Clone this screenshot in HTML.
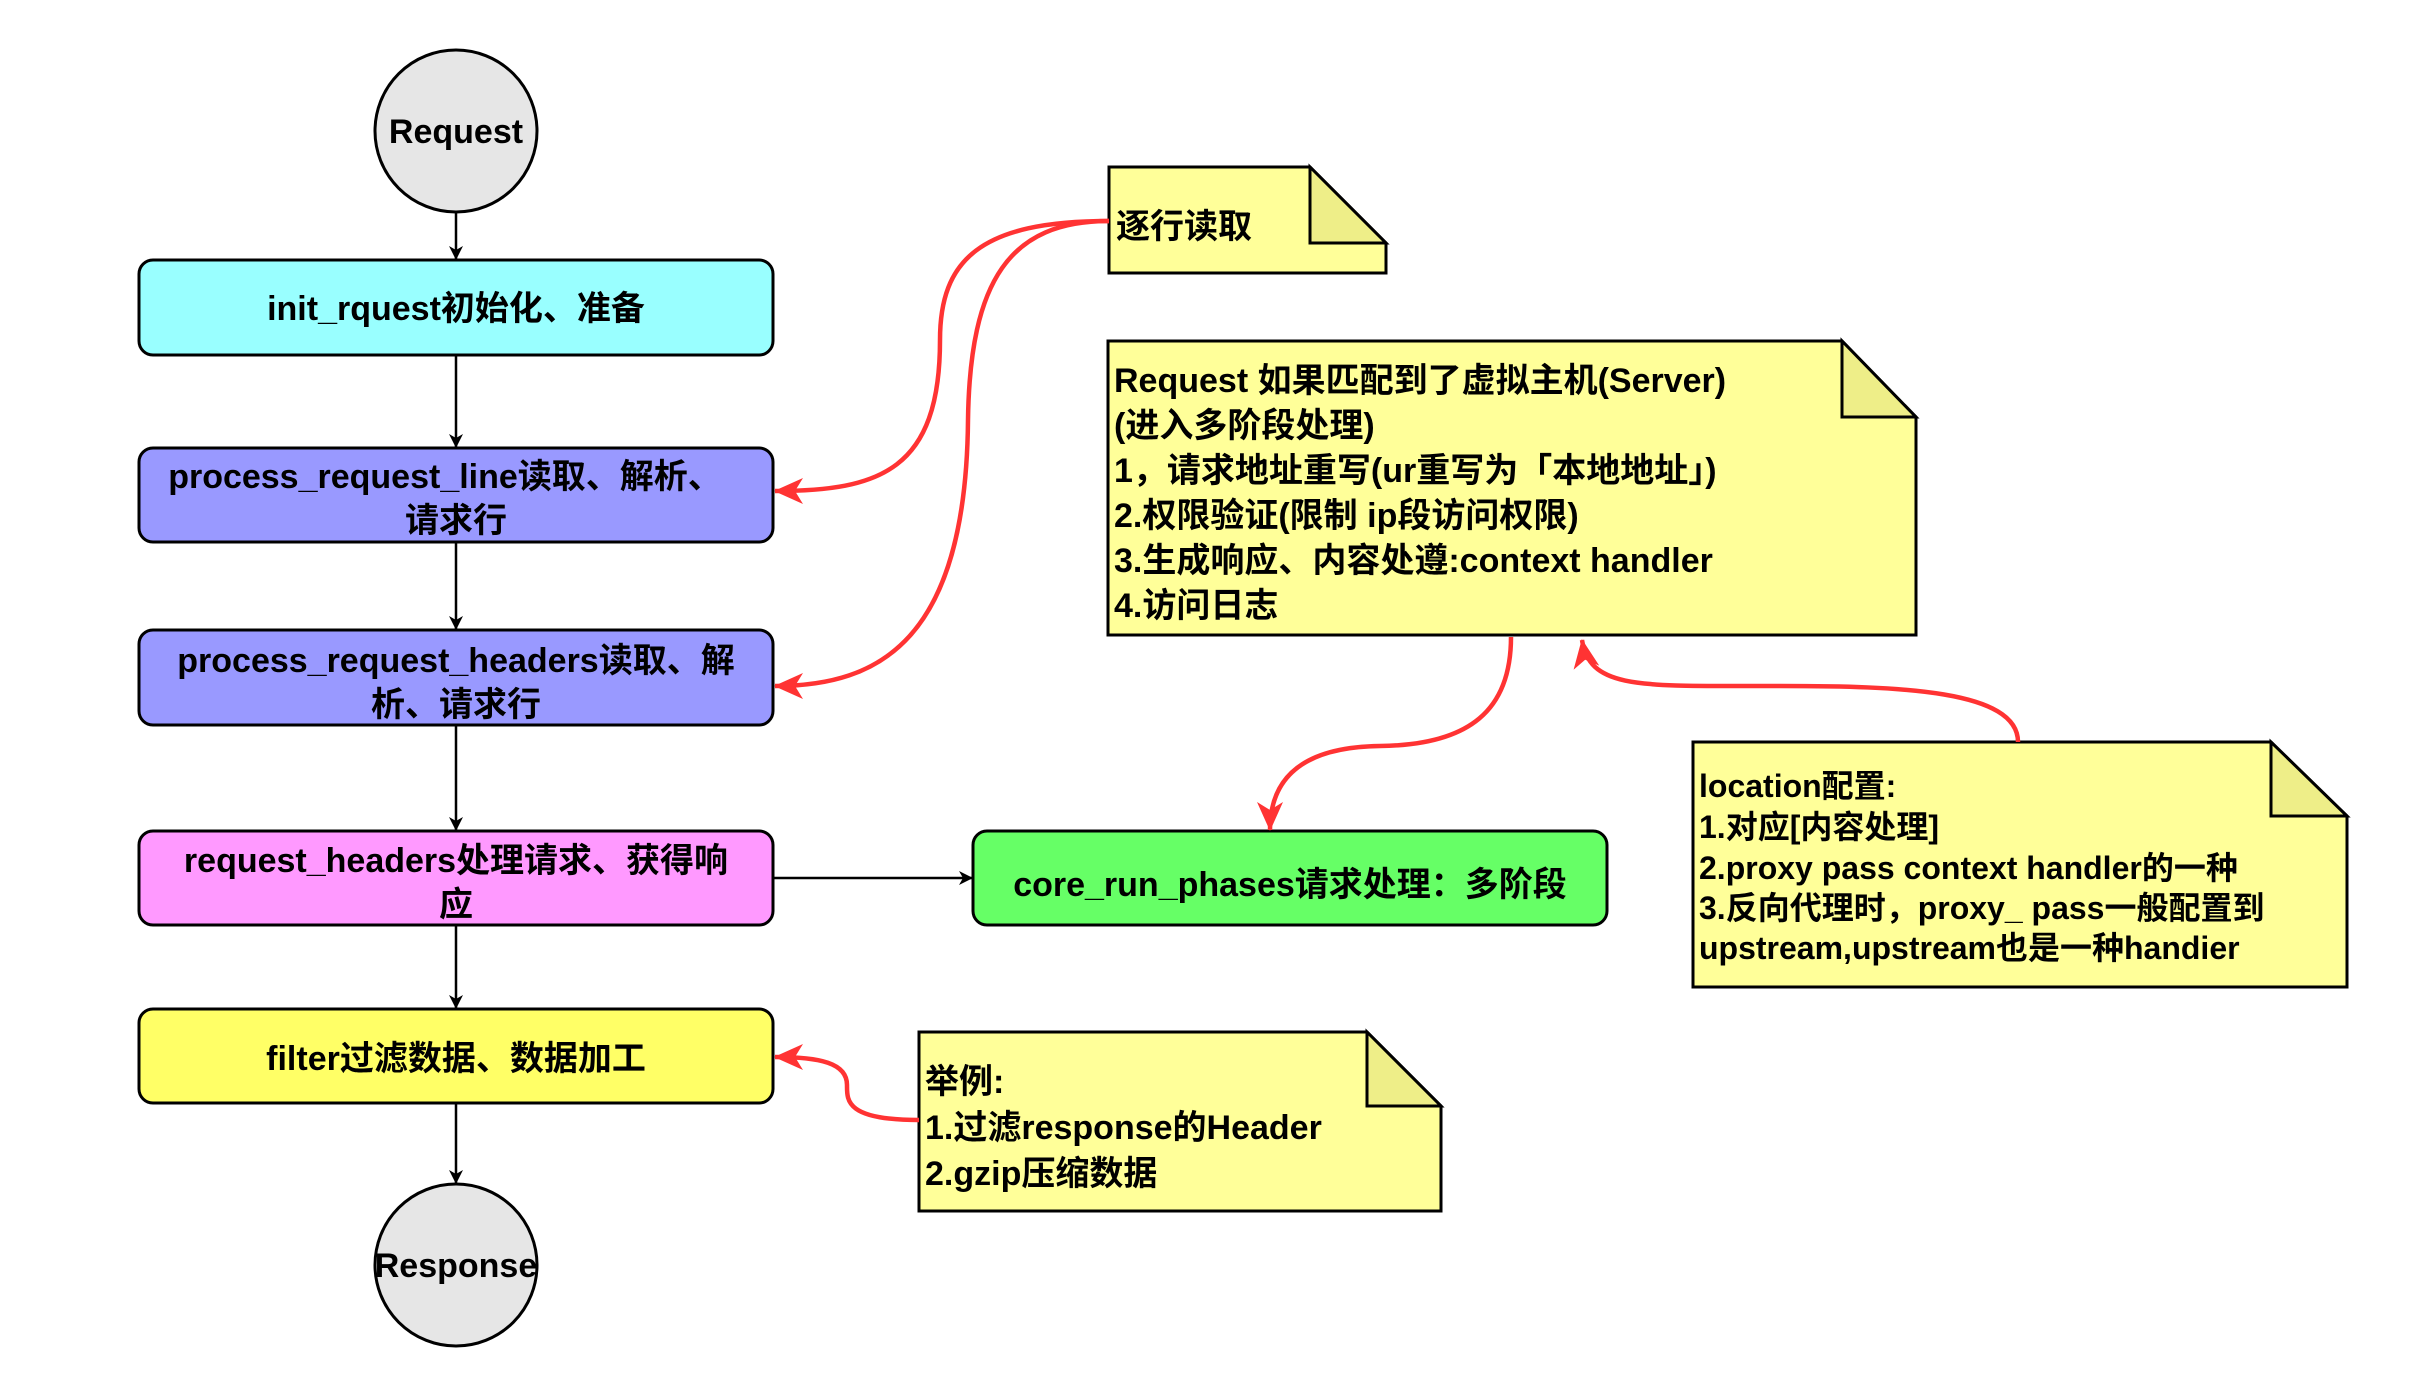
<!DOCTYPE html>
<html><head><meta charset="utf-8"><style>
html,body{margin:0;padding:0;background:#fff;}
svg text{font-family:"Liberation Sans","Noto Sans CJK SC",sans-serif;font-weight:bold;fill:#000;}
</style></head><body>
<svg width="2411" height="1388" viewBox="0 0 2411 1388" xmlns="http://www.w3.org/2000/svg">
<defs>
<marker id="ab" markerWidth="14" markerHeight="14" refX="13" refY="7" orient="auto" markerUnits="userSpaceOnUse"><path d="M0,0 L14,7 L0,14 L4,7 Z" fill="#000"/></marker>
<marker id="ar" markerWidth="30" markerHeight="30" refX="28" refY="15" orient="auto" markerUnits="userSpaceOnUse"><path d="M0,2 L29,15 L0,28 L8,15 Z" fill="#ff3333"/></marker>
</defs>
<!-- circles -->
<ellipse cx="456" cy="131" rx="81" ry="81" fill="#e6e6e6" stroke="#000" stroke-width="3"/>
<text x="456" y="143" font-size="34" text-anchor="middle">Request</text>
<ellipse cx="456" cy="1265" rx="81" ry="81" fill="#e6e6e6" stroke="#000" stroke-width="3"/>
<text x="456" y="1277" font-size="34" text-anchor="middle">Response</text>
<!-- black connectors -->
<g stroke="#000" stroke-width="2.5" fill="none" marker-end="url(#ab)">
<line x1="456" y1="212" x2="456" y2="259"/>
<line x1="456" y1="355" x2="456" y2="447"/>
<line x1="456" y1="542" x2="456" y2="629"/>
<line x1="456" y1="725" x2="456" y2="830"/>
<line x1="456" y1="925" x2="456" y2="1008"/>
<line x1="456" y1="1103" x2="456" y2="1183"/>
<line x1="773" y1="878" x2="972" y2="878"/>
</g>
<!-- boxes -->
<g stroke="#000" stroke-width="3">
<rect x="139" y="260" width="634" height="95" rx="14" fill="#99ffff"/>
<rect x="139" y="448" width="634" height="94" rx="14" fill="#9999ff"/>
<rect x="139" y="630" width="634" height="95" rx="14" fill="#9999ff"/>
<rect x="139" y="831" width="634" height="94" rx="14" fill="#ff99ff"/>
<rect x="139" y="1009" width="634" height="94" rx="14" fill="#ffff66"/>
<rect x="973" y="831" width="634" height="94" rx="14" fill="#66ff66"/>
</g>
<g font-size="34" text-anchor="middle">
<text x="456" y="320">init_rquest初始化、准备</text>
<text x="445" y="488">process_request_line读取、解析、</text>
<text x="456" y="532">请求行</text>
<text x="456" y="672">process_request_headers读取、解</text>
<text x="456" y="716">析、请求行</text>
<text x="456" y="872">request_headers处理请求、获得响</text>
<text x="456" y="916">应</text>
<text x="456" y="1070">filter过滤数据、数据加工</text>
<text x="1290" y="896">core_run_phases请求处理：多阶段</text>
</g>
<!-- notes -->
<g stroke="#000" stroke-width="3">
<path d="M1109,167 H1310 L1386,243 V273 H1109 Z" fill="#ffff99"/>
<path d="M1310,167 V243 H1386 Z" fill="#eeee88"/>
<path d="M1108,341 H1842 L1916,417 V635 H1108 Z" fill="#ffff99"/>
<path d="M1842,341 V417 H1916 Z" fill="#eeee88"/>
<path d="M1693,742 H2271 L2347,816 V987 H1693 Z" fill="#ffff99"/>
<path d="M2271,742 V816 H2347 Z" fill="#eeee88"/>
<path d="M919,1032 H1367 L1441,1106 V1211 H919 Z" fill="#ffff99"/>
<path d="M1367,1032 V1106 H1441 Z" fill="#eeee88"/>
</g>
<g font-size="34">
<text x="1116" y="238">逐行读取</text>
<text x="1114" y="392">Request 如果匹配到了虚拟主机(Server)</text>
<text x="1114" y="437">(进入多阶段处理)</text>
<text x="1114" y="482">1，请求地址重写(ur重写为「本地地址」)</text>
<text x="1114" y="527">2.权限验证(限制 ip段访问权限)</text>
<text x="1114" y="572">3.生成响应、内容处遵:context handler</text>
<text x="1114" y="617">4.访问日志</text>
</g>
<g font-size="32">
<text x="1699" y="797">location配置:</text>
<text x="1699" y="838">1.对应[内容处理]</text>
<text x="1699" y="879">2.proxy pass context handler的一种</text>
<text x="1699" y="919">3.反向代理时，proxy_ pass一般配置到</text>
<text x="1699" y="959">upstream,upstream也是一种handier</text>
</g>
<g font-size="34">
<text x="925" y="1093">举例:</text>
<text x="925" y="1139">1.过滤response的Header</text>
<text x="925" y="1185">2.gzip压缩数据</text>
</g>
<!-- red curves -->
<g stroke="#ff3333" stroke-width="4.5" fill="none" marker-end="url(#ar)">
<path d="M1109,221 C980,221 940,260 940,340 C940,470 880,491 775,491"/>
<path d="M1109,221 C1010,221 970,280 968,420 C966,640 880,686 775,686"/>
<path d="M1511,637 C1511,710 1470,745 1380,746 C1300,747 1270,780 1270,830"/>
<path d="M2018,742 C2018,690 1900,686 1780,686 C1640,686 1590,690 1582,640"/>
<path d="M919,1120 C845,1120 847,1100 847,1085 C847,1063 820,1057 775,1057"/>
</g>
</svg>
</body></html>
